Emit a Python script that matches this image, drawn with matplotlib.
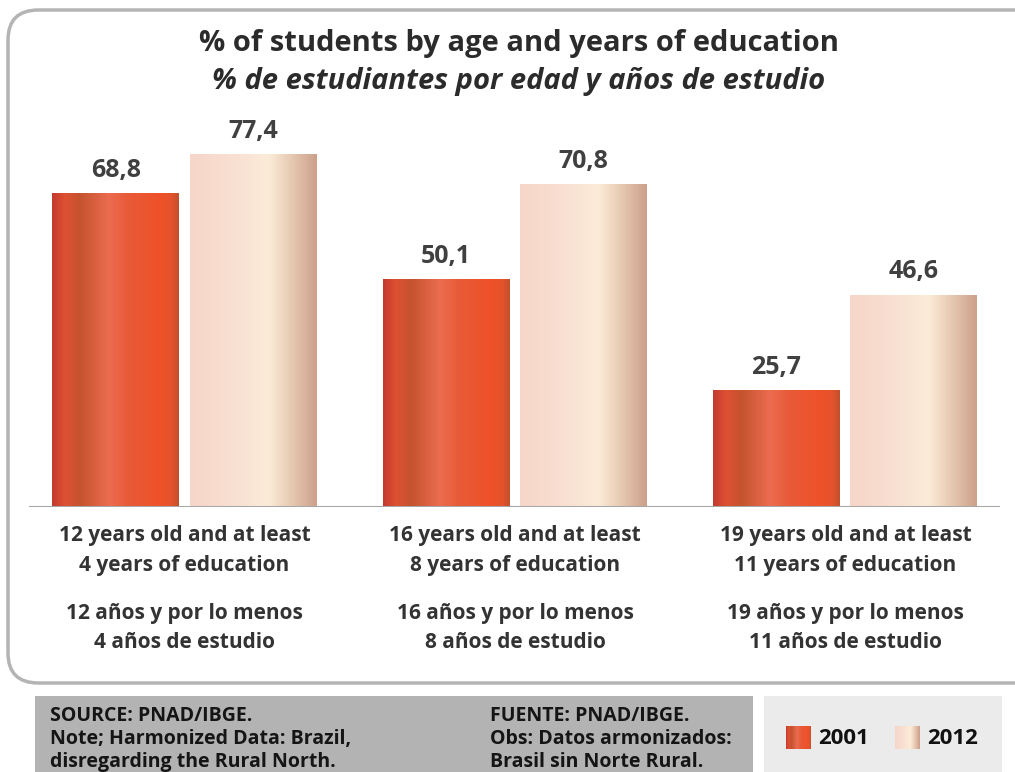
import numpy as np
import matplotlib.pyplot as plt
from matplotlib.colors import LinearSegmentedColormap
from matplotlib.patches import FancyBboxPatch, Rectangle

categories_en = ["12 years old and at least\n4 years of education",
                 "16 years old and at least\n8 years of education",
                 "19 years old and at least\n11 years of education"]
categories_es = ["12 años y por lo menos\n4 años de estudio",
                 "16 años y por lo menos\n8 años de estudio",
                 "19 años y por lo menos\n11 años de estudio"]
years = ["2001", "2012"]
values_2001 = [68.8, 50.1, 25.7]
values_2012 = [77.4, 70.8, 46.6]

FONT = "Open Sans"
TXT = "#404040"

# horizontal "metallic" gradients used to fill the bars
red_cmap = LinearSegmentedColormap.from_list("red", [
    (0.00, "#c23a30"), (0.10, "#df5032"), (0.22, "#c4532f"),
    (0.45, "#ec6c50"), (0.60, "#e85a38"), (0.85, "#ef5128"),
    (0.94, "#e4532c"), (1.00, "#c2502c")])
cream_cmap = LinearSegmentedColormap.from_list("cream", [
    (0.00, "#f6d6c8"), (0.35, "#f9e0d2"), (0.62, "#fbecd8"),
    (0.80, "#e7c9b2"), (1.00, "#cca08a")])

fig = plt.figure(figsize=(10.15, 7.72), dpi=100)

# rounded frame around the chart area
frame = FancyBboxPatch((8 / 1015, 1 - 683 / 772), 1.05, (683 - 10) / 772,
                       boxstyle="round,pad=0,rounding_size=0.03",
                       transform=fig.transFigure, facecolor="white",
                       edgecolor="#b4b4b4", linewidth=2.5, mutation_aspect=1.3,
                       zorder=-5)
fig.patches.append(frame)

fig.text(0.511, 1 - 43 / 772, "% of students by age and years of education",
         ha="center", va="center", fontsize=21, fontweight="bold",
         family=FONT, color="#2b2b2b")
fig.text(0.511, 1 - 82 / 772, "% de estudiantes por edad y años de estudio",
         ha="center", va="center", fontsize=21, fontweight="bold",
         style="italic", family=FONT, color="#2b2b2b")

ax = fig.add_axes([29 / 1015, 1 - 507 / 772, 971 / 1015, 410.4 / 772])
ax.set_xlim(-0.4705, 2.4690)
ax.set_ylim(0, 90)
ax.axis("off")
ax.axhline(0, color="#a6a6a6", linewidth=2.2, zorder=3)

x = np.arange(len(values_2001))
width = 0.384
offset = 0.208
grad = np.linspace(0, 1, 256).reshape(1, -1)

for vals, dx, cmap in [(values_2001, -offset, red_cmap),
                       (values_2012, offset, cream_cmap)]:
    bars = ax.bar(x + dx, vals, width, color="none", edgecolor="none")
    for bar, v in zip(bars, vals):
        x0 = bar.get_x()
        im = ax.imshow(grad, cmap=cmap, aspect="auto",
                       extent=(x0, x0 + bar.get_width(), 0, v), zorder=2)
        im.set_clip_path(bar)
        ax.text(bar.get_x() + bar.get_width() / 2, v + 2.2,
                f"{v:.1f}".replace(".", ","), ha="center", va="bottom",
                fontsize=18, fontweight="bold", family=FONT, color=TXT)

ax.set_xlim(-0.4705, 2.4690)
ax.set_ylim(0, 90)

for i in range(len(categories_en)):
    xf = (29 + (i + 0.4705) * 330.5) / 1015
    fig.text(xf, 1 - 550.5 / 772, categories_en[i], ha="center", va="center",
             fontsize=15, fontweight="bold", family=FONT, color="#333333",
             linespacing=1.56)
    fig.text(xf, 1 - 628 / 772, categories_es[i], ha="center", va="center",
             fontsize=15, fontweight="bold", family=FONT, color="#333333",
             linespacing=1.56)

# footer: source notes and legend
fig.patches.append(Rectangle((35 / 1015, 0), (753 - 35) / 1015, (772 - 696) / 772,
                             transform=fig.transFigure, facecolor="#b3b3b3",
                             edgecolor="none", zorder=-5))
fig.patches.append(Rectangle((764 / 1015, 0), (1002 - 764) / 1015, (772 - 696) / 772,
                             transform=fig.transFigure, facecolor="#ebebeb",
                             edgecolor="none", zorder=-5))

left_notes = "SOURCE: PNAD/IBGE.\nNote; Harmonized Data: Brazil,\ndisregarding the Rural North."
right_notes = "FUENTE: PNAD/IBGE.\nObs: Datos armonizados:\nBrasil sin Norte Rural."
fig.text(50 / 1015, 1 - 739 / 772, left_notes, ha="left", va="center",
         fontsize=14, fontweight="bold", family=FONT, color="#151515",
         linespacing=1.22)
fig.text(490 / 1015, 1 - 739 / 772, right_notes, ha="left", va="center",
         fontsize=14, fontweight="bold", family=FONT, color="#151515",
         linespacing=1.22)

for cmap, label, x0 in [(red_cmap, years[0], 786), (cream_cmap, years[1], 895)]:
    lax = fig.add_axes([x0 / 1015, 1 - 749 / 772, 25 / 1015, 23 / 772])
    lax.imshow(grad, cmap=cmap, aspect="auto")
    lax.axis("off")
    fig.text((x0 + 32) / 1015, 1 - 738 / 772, label, ha="left", va="center",
             fontsize=16, fontweight="bold", family=FONT, color="#111111")

fig.savefig("out.png", dpi=100)
